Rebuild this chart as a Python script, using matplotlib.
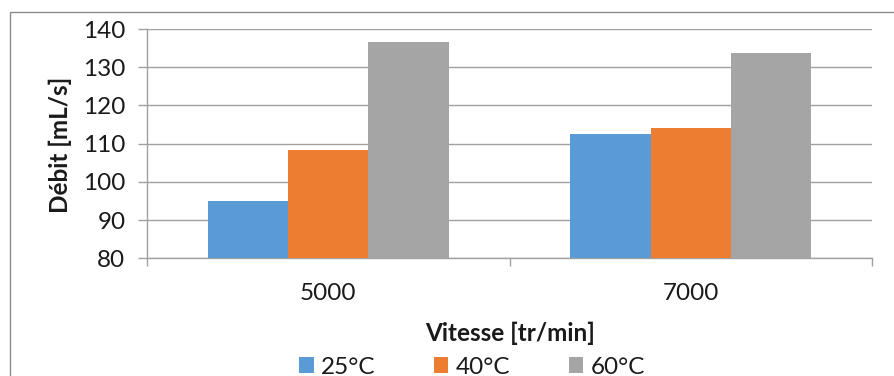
import matplotlib
matplotlib.use("Agg")
import matplotlib.pyplot as plt
from matplotlib.patches import Rectangle
import numpy as np

categories = ["5000", "7000"]
series_names = ["25°C", "40°C", "60°C"]
v25 = [95.0, 112.4]
v40 = [108.4, 114.1]
v60 = [136.7, 133.7]
colors = ["#5B9BD5", "#ED7D31", "#A5A5A5"]
yticks = [80, 90, 100, 110, 120, 130, 140]

plt.rcParams['font.family'] = ['Lato', 'DejaVu Sans']
FS = 17.5

W, H = 894, 376
fig = plt.figure(figsize=(W / 100, H / 100), dpi=100)
ax = fig.add_axes([147 / W, 1 - 258.3 / H, (872 - 147) / W, (258.3 - 29) / H])

x = np.arange(len(categories))
bw = 0.222
for i, (vals, name, c) in enumerate(zip([v25, v40, v60], series_names, colors)):
    ax.bar(x + (i - 1) * bw, np.array(vals) - 80, bottom=80, width=bw, color=c,
           label=name, zorder=3)

ax.set_xlim(-0.5, 1.5)
ax.set_ylim(80, 140)
ax.set_yticks(yticks)
ax.set_yticklabels([str(t) for t in yticks])
grid_c = "#A0A0A0"
ax.yaxis.grid(True, color=grid_c, linewidth=1.0, zorder=0)
ax.set_axisbelow(True)
for s in ["top", "right"]:
    ax.spines[s].set_visible(False)
ax.spines["left"].set_color(grid_c)
ax.spines["bottom"].set_color(grid_c)
ax.spines["left"].set_linewidth(1.0)
ax.spines["bottom"].set_linewidth(1.0)

# x ticks: category boundaries as tick marks, labels at centers
ax.set_xticks([-0.5, 0.5, 1.5])
ax.set_xticklabels(["", "", ""])
ax.set_xticks(x, minor=True)
ax.set_xticklabels(categories, minor=True)
ax.tick_params(axis="x", which="major", length=6, width=1.0, color=grid_c, direction="out")
ax.tick_params(axis="x", which="minor", length=0, pad=18, labelsize=FS, labelcolor="#1a1a1a")
ax.tick_params(axis="y", length=6.5, width=1.0, color=grid_c, direction="out", pad=9,
               labelsize=FS, labelcolor="#1a1a1a")

fig.text(60 / W, 1 - 145 / H, "Débit [mL/s]", rotation=90, ha="center", va="center",
         fontsize=FS, fontweight="bold", color="#1a1a1a")
fig.text(510 / W, 1 - 333 / H, "Vitesse [tr/min]", ha="center", va="center",
         fontsize=FS, fontweight="bold", color="#1a1a1a")

leg = fig.legend(loc="center", bbox_to_anchor=(472 / W, 1 - 367 / H), ncol=3,
                 frameon=False, fontsize=FS, handlelength=0.6, handleheight=0.6,
                 handletextpad=0.3, columnspacing=2.4, borderpad=0)
for t in leg.get_texts():
    t.set_color("#1a1a1a")

# outer chart frame (partially visible)
fig.patches.append(Rectangle((10 / W, -0.1), 1.2, 1 - 12 / H + 0.1, transform=fig.transFigure,
                             fill=False, edgecolor="#8C8C8C", linewidth=1.0, zorder=0))

fig.savefig("out.png", dpi=100)
